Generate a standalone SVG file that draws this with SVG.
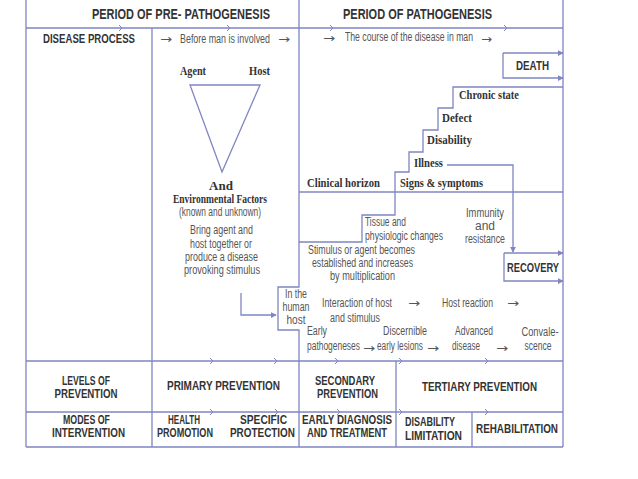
<svg xmlns="http://www.w3.org/2000/svg" width="638" height="479" viewBox="0 0 638 479">
<defs>
<style>
.ln{fill:none;stroke:#7f86c2;stroke-width:1.3}
.tk{fill:none;stroke:#7f86c2;stroke-width:1}
.b{font-family:"Liberation Sans",Arial,sans-serif;font-weight:bold;font-size:12.5px;fill:#333}
.h{font-family:"Liberation Sans",Arial,sans-serif;font-weight:bold;font-size:14px;fill:#333}
.s{font-family:"Liberation Serif","Times New Roman",serif;font-weight:bold;font-size:13px;fill:#333}
.l{font-family:"Liberation Sans",Arial,sans-serif;font-size:12px;fill:#555}
.ar{font-family:"DejaVu Sans",sans-serif;font-size:12px;fill:#555}
</style>
<marker id="ah" viewBox="0 0 8 8" refX="7" refY="4" markerWidth="6" markerHeight="6" orient="auto" markerUnits="userSpaceOnUse">
<path d="M0,0 L8,4 L0,8 z" fill="#7f86c2"/>
</marker>
</defs>
<rect width="638" height="479" fill="#fff"/>

<g id="connectors">
<path class="ln" d="M26,0 V447 M563,0 V447 M152,28 V447 M396,361 V447 M472,412 V447"/>
<path class="ln" d="M26,28 H563 M26,361 H563 M26,412 H563 M26,447 H563"/>
<path class="ln" d="M299,0 V287 H278 V330 H299 V447"/>
<path class="ln" d="M299,192 H563"/>
<path class="ln" d="M299,242 H362 V215 H395 V172 H409 V152 H423 V130 H438 V108 H453 V87 H563"/>
<path class="ln" d="M503,53 H563" marker-end="url(#ah)"/>
<path class="ln" d="M503,53 V78 H563" marker-end="url(#ah)"/>
<path class="ln" d="M447,165 H513 V252" marker-end="url(#ah)"/>
<path class="ln" d="M504,253 H563" marker-end="url(#ah)"/>
<path class="ln" d="M504,253 V281 H563" marker-end="url(#ah)"/>
<path class="ln" d="M241,293 V315 H276" marker-end="url(#ah)"/>
<path class="ln" d="M190,85 H260 L222,172 Z"/>
<path class="tk" d="M119,25 L122,28 L119,31 M227,25 L230,28 L227,31 M330,25 L333,28 L330,31 M504,25 L507,28 L504,31
M210,358 L213,361 L210,364 M274,358 L277,361 L274,364 M335,358 L338,361 L335,364 M399,358 L402,361 L399,364 M485,358 L488,361 L485,364
M210,409 L213,412 L210,415 M275,409 L278,412 L275,415 M337,409 L340,412 L337,415 M399,409 L402,412 L399,415 M485,409 L488,412 L485,415"/>
</g>

<g id="header-pre"><text class="h" x="92" y="19" textLength="178" lengthAdjust="spacingAndGlyphs">PERIOD OF PRE- PATHOGENESIS</text></g>
<g id="header-path"><text class="h" x="343" y="19" textLength="149" lengthAdjust="spacingAndGlyphs">PERIOD OF PATHOGENESIS</text></g>
<g id="disease-process"><text class="b" x="43" y="43" textLength="92" lengthAdjust="spacingAndGlyphs">DISEASE PROCESS</text></g>
<g id="before-man">
<text class="ar" x="160" y="43" textLength="12" lengthAdjust="spacingAndGlyphs">→</text>
<text class="l" x="180" y="43" textLength="90" lengthAdjust="spacingAndGlyphs">Before man is involved</text>
<text class="ar" x="278" y="43" textLength="12" lengthAdjust="spacingAndGlyphs">→</text>
</g>
<g id="course">
<text class="ar" x="323" y="42" textLength="12" lengthAdjust="spacingAndGlyphs">→</text>
<text class="l" x="345" y="41" textLength="128" lengthAdjust="spacingAndGlyphs">The course of the disease in man</text>
<text class="ar" x="481" y="43" textLength="11" lengthAdjust="spacingAndGlyphs">→</text>
</g>

<g id="agent-host">
<text class="s" x="180" y="75" textLength="26" lengthAdjust="spacingAndGlyphs">Agent</text>
<text class="s" x="249" y="75" textLength="21" lengthAdjust="spacingAndGlyphs">Host</text>
<text class="s" x="221" y="190" text-anchor="middle">And</text>
<text class="s" x="173" y="203" textLength="94" lengthAdjust="spacingAndGlyphs">Environmental Factors</text>
<text class="l" x="179" y="216" textLength="82" lengthAdjust="spacingAndGlyphs">(known  and unknown)</text>
<text class="l" x="190" y="234" textLength="63" lengthAdjust="spacingAndGlyphs">Bring agent and</text>
<text class="l" x="190" y="248" textLength="62" lengthAdjust="spacingAndGlyphs">host together or</text>
<text class="l" x="185" y="261" textLength="73" lengthAdjust="spacingAndGlyphs">produce  a disease</text>
<text class="l" x="184" y="274" textLength="76" lengthAdjust="spacingAndGlyphs">provoking stimulus</text>
</g>

<g id="death"><text class="b" x="516" y="70" textLength="33" lengthAdjust="spacingAndGlyphs">DEATH</text></g>
<g id="chronic"><text class="s" x="459" y="99" textLength="60" lengthAdjust="spacingAndGlyphs">Chronic state</text></g>
<g id="defect"><text class="s" x="442" y="122" textLength="30" lengthAdjust="spacingAndGlyphs">Defect</text></g>
<g id="disability"><text class="s" x="427" y="144" textLength="45" lengthAdjust="spacingAndGlyphs">Disability</text></g>
<g id="illness"><text class="s" x="414" y="167" textLength="29" lengthAdjust="spacingAndGlyphs">Illness</text></g>
<g id="signs"><text class="s" x="400" y="187" textLength="83" lengthAdjust="spacingAndGlyphs">Signs &amp; symptoms</text></g>
<g id="clinical"><text class="s" x="307" y="187" textLength="73" lengthAdjust="spacingAndGlyphs">Clinical horizon</text></g>

<g id="tissue">
<text class="l" x="365" y="226" textLength="41" lengthAdjust="spacingAndGlyphs">Tissue and</text>
<text class="l" x="365" y="240" textLength="78" lengthAdjust="spacingAndGlyphs">physiologic changes</text>
</g>
<g id="immunity">
<text class="l" x="485" y="217" text-anchor="middle" textLength="38" lengthAdjust="spacingAndGlyphs">Immunity</text>
<text class="l" x="485" y="230" text-anchor="middle">and</text>
<text class="l" x="485" y="243" text-anchor="middle" textLength="40" lengthAdjust="spacingAndGlyphs">resistance</text>
</g>
<g id="recovery"><text class="b" x="507" y="272" textLength="52" lengthAdjust="spacingAndGlyphs">RECOVERY</text></g>
<g id="stimulus">
<text class="l" x="308" y="254" textLength="107" lengthAdjust="spacingAndGlyphs">Stimulus or agent becomes</text>
<text class="l" x="312" y="267" textLength="101" lengthAdjust="spacingAndGlyphs">established  and increases</text>
<text class="l" x="330" y="280" textLength="65" lengthAdjust="spacingAndGlyphs">by multiplication</text>
</g>
<g id="human-host">
<text class="l" x="296" y="298" text-anchor="middle" textLength="22" lengthAdjust="spacingAndGlyphs">In the</text>
<text class="l" x="296" y="311" text-anchor="middle" textLength="27" lengthAdjust="spacingAndGlyphs">human</text>
<text class="l" x="296" y="324" text-anchor="middle" textLength="19" lengthAdjust="spacingAndGlyphs">host</text>
</g>
<g id="interaction">
<text class="l" x="322" y="307" textLength="70" lengthAdjust="spacingAndGlyphs">Interaction of host</text>
<text class="ar" x="408" y="307" textLength="12" lengthAdjust="spacingAndGlyphs">→</text>
<text class="l" x="330" y="322" textLength="50" lengthAdjust="spacingAndGlyphs">and stimulus</text>
</g>
<g id="host-reaction">
<text class="l" x="442" y="307" textLength="51" lengthAdjust="spacingAndGlyphs">Host reaction</text>
<text class="ar" x="507" y="307" textLength="12" lengthAdjust="spacingAndGlyphs">→</text>
</g>
<g id="early">
<text class="l" x="307" y="335" textLength="20" lengthAdjust="spacingAndGlyphs">Early</text>
<text class="l" x="307" y="350" textLength="53" lengthAdjust="spacingAndGlyphs">pathogeneses</text>
<text class="ar" x="363" y="352" textLength="12" lengthAdjust="spacingAndGlyphs">→</text>
</g>
<g id="discernible">
<text class="l" x="383" y="335" textLength="44" lengthAdjust="spacingAndGlyphs">Discernible</text>
<text class="l" x="377" y="350" textLength="46" lengthAdjust="spacingAndGlyphs">early lesions</text>
<text class="ar" x="427" y="352" textLength="12" lengthAdjust="spacingAndGlyphs">→</text>
</g>
<g id="advanced">
<text class="l" x="455" y="335" textLength="38" lengthAdjust="spacingAndGlyphs">Advanced</text>
<text class="l" x="452" y="350" textLength="28" lengthAdjust="spacingAndGlyphs">disease</text>
<text class="ar" x="496" y="352" textLength="12" lengthAdjust="spacingAndGlyphs">→</text>
</g>
<g id="convalescence">
<text class="l" x="540" y="336" text-anchor="middle" textLength="37" lengthAdjust="spacingAndGlyphs">Convale-</text>
<text class="l" x="538" y="350" text-anchor="middle" textLength="27" lengthAdjust="spacingAndGlyphs">scence</text>
</g>

<g id="levels">
<text class="b" x="86" y="385" text-anchor="middle" textLength="48" lengthAdjust="spacingAndGlyphs">LEVELS OF</text>
<text class="b" x="86" y="398" text-anchor="middle" textLength="63" lengthAdjust="spacingAndGlyphs">PREVENTION</text>
</g>
<g id="primary"><text class="b" x="167" y="390" textLength="113" lengthAdjust="spacingAndGlyphs">PRIMARY PREVENTION</text></g>
<g id="secondary">
<text class="b" x="315" y="385" textLength="60" lengthAdjust="spacingAndGlyphs">SECONDARY</text>
<text class="b" x="317" y="398" textLength="61" lengthAdjust="spacingAndGlyphs">PREVENTION</text>
</g>
<g id="tertiary"><text class="b" x="422" y="391" textLength="115" lengthAdjust="spacingAndGlyphs">TERTIARY PREVENTION</text></g>

<g id="modes">
<text class="b" x="63" y="424" textLength="47" lengthAdjust="spacingAndGlyphs">MODES OF</text>
<text class="b" x="52" y="437" textLength="73" lengthAdjust="spacingAndGlyphs">INTERVENTION</text>
</g>
<g id="health">
<text class="b" x="168" y="424" textLength="32" lengthAdjust="spacingAndGlyphs">HEALTH</text>
<text class="b" x="157" y="437" textLength="56" lengthAdjust="spacingAndGlyphs">PROMOTION</text>
</g>
<g id="specific">
<text class="b" x="240" y="424" textLength="47" lengthAdjust="spacingAndGlyphs">SPECIFIC</text>
<text class="b" x="230" y="437" textLength="65" lengthAdjust="spacingAndGlyphs">PROTECTION</text>
</g>
<g id="early-diagnosis">
<text class="b" x="302" y="424" textLength="90" lengthAdjust="spacingAndGlyphs">EARLY DIAGNOSIS</text>
<text class="b" x="307" y="437" textLength="80" lengthAdjust="spacingAndGlyphs">AND TREATMENT</text>
</g>
<g id="disability-limitation">
<text class="b" x="405" y="426" textLength="50" lengthAdjust="spacingAndGlyphs">DISABILITY</text>
<text class="b" x="405" y="440" textLength="57" lengthAdjust="spacingAndGlyphs">LIMITATION</text>
</g>
<g id="rehabilitation"><text class="b" x="476" y="433" textLength="82" lengthAdjust="spacingAndGlyphs">REHABILITATION</text></g>
</svg>
